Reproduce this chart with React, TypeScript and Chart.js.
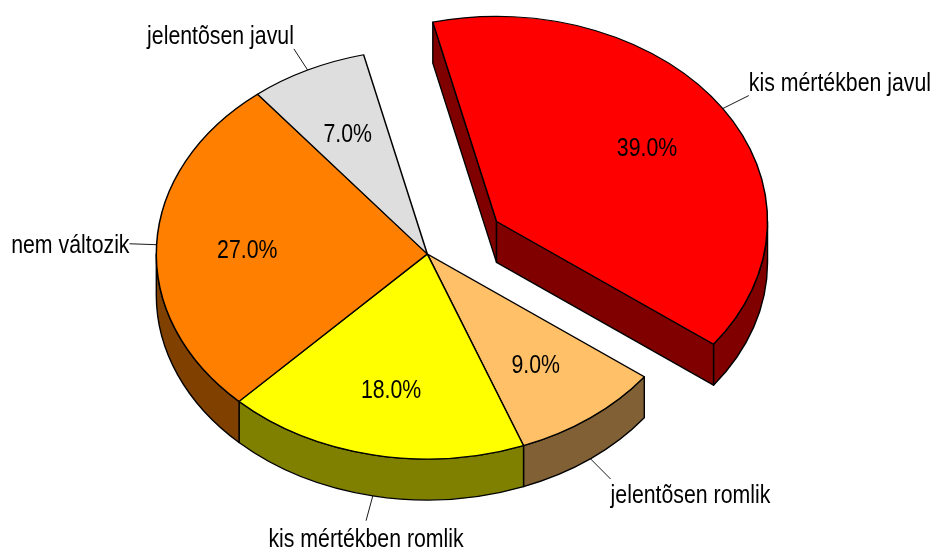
import React, { useEffect, useRef } from "react";
import { Chart, registerables } from "chart.js";

Chart.register(...registerables);

const categories = ["kis mértékben javul", "jelentõsen romlik", "kis mértékben romlik", "nem változik", "jelentõsen javul"];
const shares = [39, 9, 18, 27, 7];
const topColors = ["#ff0000", "#ffc068", "#ffff00", "#ff8000", "#dedede"];
const sideColors = ["#800000", "#806034", "#808000", "#804000", "#6f6f6f"];
const explodeFractions = [0.306, 0, 0, 0, 0];

const TILT = 0.7565;
const EXPLODE_TILT = 0.714;
const DEPTH = 41;
const RADIUS = 271;
const TEXT_FONT = '25.5px "Liberation Sans", Arial, sans-serif';
const TEXT_SQUEEZE = 0.835;

function drawText(
  ctx: CanvasRenderingContext2D,
  text: string,
  x: number,
  y: number,
  align: CanvasTextAlign,
  baseline: CanvasTextBaseline
) {
  ctx.save();
  ctx.translate(x, y);
  ctx.scale(TEXT_SQUEEZE, 1);
  ctx.font = TEXT_FONT;
  ctx.fillStyle = "#000";
  ctx.textAlign = align;
  ctx.textBaseline = baseline;
  ctx.fillText(text, 0, 0);
  ctx.restore();
}

function drawWalls(ctx: CanvasRenderingContext2D, arc: any, i: number, cx: number, cy: number) {
  const R = arc.outerRadius;
  const ry = R * TILT;
  const px = (a: number) => cx + Math.cos(a) * R;
  const py = (a: number) => cy + Math.sin(a) * ry;
  ctx.fillStyle = sideColors[i];
  ctx.strokeStyle = "#000";
  ctx.lineWidth = 1.4;
  ctx.lineJoin = "round";

  const face = (a: number) => {
    ctx.beginPath();
    ctx.moveTo(cx, cy);
    ctx.lineTo(px(a), py(a));
    ctx.lineTo(px(a), py(a) + DEPTH);
    ctx.lineTo(cx, cy + DEPTH);
    ctx.closePath();
    ctx.fill();
    ctx.stroke();
  };

  const exploded = explodeFractions[i] > 0;
  if (exploded && Math.sin(arc.startAngle - Math.PI / 2) > 0) face(arc.startAngle);

  const TAU = Math.PI * 2;
  for (const k of [-1, 0, 1]) {
    const a0 = Math.max(arc.startAngle, k * TAU);
    const a1 = Math.min(arc.endAngle, k * TAU + Math.PI);
    if (a1 <= a0) continue;
    ctx.beginPath();
    ctx.ellipse(cx, cy, R, ry, 0, a0, a1, false);
    ctx.lineTo(px(a1), py(a1) + DEPTH);
    ctx.ellipse(cx, cy + DEPTH, R, ry, 0, a1, a0, true);
    ctx.closePath();
    ctx.fill();
    ctx.stroke();
  }

  if (exploded && Math.sin(arc.endAngle + Math.PI / 2) > 0) face(arc.endAngle);
}

const pie3dPlugin = {
  id: "pie3d",
  beforeDatasetsDraw(chart: any) {
    const ctx: CanvasRenderingContext2D = chart.ctx;
    const arcs: any[] = chart.getDatasetMeta(0).data;
    const centres = arcs.map((arc, i) => {
      const mid = (arc.startAngle + arc.endAngle) / 2;
      const e = explodeFractions[i] * arc.outerRadius;
      return { mid, x: arc.x + Math.cos(mid) * e, y: arc.y + Math.sin(mid) * e * EXPLODE_TILT };
    });

    arcs.forEach((arc, i) => drawWalls(ctx, arc, i, centres[i].x, centres[i].y));

    arcs.forEach((arc, i) => {
      ctx.save();
      ctx.translate(centres[i].x, centres[i].y);
      ctx.scale(1, TILT);
      ctx.translate(-arc.x, -arc.y);
      arc.draw(ctx);
      ctx.restore();
    });

    arcs.forEach((arc, i) => {
      const { mid, x, y } = centres[i];
      const R = arc.outerRadius;
      const cos = Math.cos(mid);
      const sin = Math.sin(mid);
      drawText(ctx, shares[i].toFixed(1) + "%", x + cos * R * 0.665, y + sin * R * TILT * 0.665 + 3, "center", "middle");

      const wall = sin > 0.1 ? DEPTH : 0;
      const reach = Math.abs(cos) > 0.95 ? 1.1 : sin > 0.1 ? 1.124 : 1.115;
      const sx = x + cos * R;
      const sy = y + sin * R * TILT + wall;
      const ex = x + cos * R * reach;
      const ey = y + sin * R * TILT * reach + wall;
      ctx.strokeStyle = "#000";
      ctx.lineWidth = 0.9;
      ctx.beginPath();
      ctx.moveTo(sx, sy);
      ctx.lineTo(ex, ey);
      ctx.stroke();

      const align: CanvasTextAlign = Math.abs(cos) < 0.3 ? "center" : cos > 0 ? "left" : "right";
      const dy = Math.abs(sin) < 0.3 ? 9 : sin > 0.9 ? 26 : sin > 0 ? 24 : -5;
      drawText(ctx, categories[i], ex, ey + dy, align, "alphabetic");
    });
    return false;
  },
};

export default function App() {
  const ref = useRef<HTMLCanvasElement | null>(null);
  useEffect(() => {
    document.body.style.margin = "0";
    const chart = new Chart(ref.current as HTMLCanvasElement, {
      type: "pie",
      data: {
        labels: categories,
        datasets: [
          {
            data: shares,
            backgroundColor: topColors,
            borderColor: "#000",
            borderWidth: 1.5,
            radius: RADIUS,
          } as any,
        ],
      },
      options: {
        responsive: false,
        animation: false,
        rotation: -13.6,
        layout: { padding: { right: 76.4, bottom: 40 } },
        plugins: { legend: { display: false }, tooltip: { enabled: false } },
      },
      plugins: [pie3dPlugin],
    } as any);
    return () => chart.destroy();
  }, []);
  return <canvas ref={ref} width={931} height={548} style={{ display: "block" }} />;
}
